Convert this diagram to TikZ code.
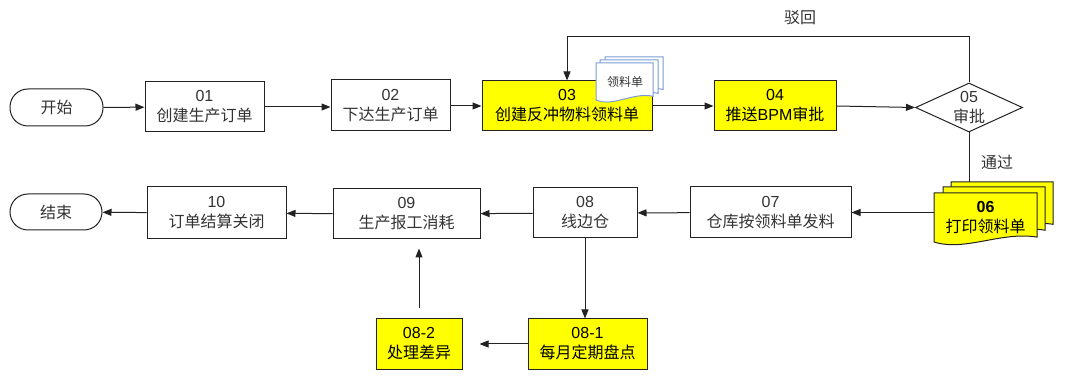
\documentclass[tikz,border=0pt]{standalone}
\usepackage{fontspec}
\setmainfont{Liberation Sans}
\newfontfamily\cjk{Noto Sans CJK SC}
\usetikzlibrary{shapes.geometric,arrows.meta,calc}
\definecolor{ink}{HTML}{333333}
\definecolor{edge}{HTML}{222222}
\definecolor{docblue}{HTML}{7A9CD3}
\definecolor{yel}{HTML}{FFFF00}
\newcommand\docpg[5]{\path[#5,shift={(#1,#2)}] (0,0) -- ({#3},0) -- ({#3},{0.9*#4}) .. controls ({0.65*#3},{0.78*#4}) and ({0.3*#3},{1.2*#4}) .. (0,{#4}) -- cycle;}
\begin{document}
\begin{tikzpicture}[x=1pt,y=-1pt,
  box/.style={rectangle,draw=edge,line width=1pt,fill=white,inner sep=0pt,align=center,text=ink,font=\fontsize{16}{20}\selectfont},
  ybox/.style={box,fill=yel,text=black},
  term/.style={box,rounded corners=18pt},
  arr/.style={draw=edge,line width=1pt,-{Triangle[length=9pt,width=7pt]}},
  ln/.style={draw=edge,line width=1pt},
  lbl/.style={text=ink,font=\fontsize{16}{20}\selectfont\cjk,inner sep=0pt},
  pagey/.style={draw=edge,line width=1pt,fill=yel},
  pageb/.style={draw=docblue,line width=1pt,fill=white}]
\useasboundingbox (0,0) rectangle (1080,390);
% row 1
\node[term,minimum width=93pt,minimum height=37pt] (start) at (56.5,107.5) {\cjk 开始};
\node[box,minimum width=119pt,minimum height=50pt] (n01) at (204.5,107) {01\\{\cjk 创建生产订单}};
\node[box,minimum width=119pt,minimum height=51pt] (n02) at (390.5,105.5) {02\\{\cjk 下达生产订单}};
\node[ybox,minimum width=170pt,minimum height=50pt] (n03) at (567,106) {03\\{\cjk 创建反冲物料领料单}};
\node[ybox,minimum width=122pt,minimum height=50pt] (n04) at (775,106) {04\\{\cjk 推送}BPM{\cjk 审批}};
\node[diamond,draw=edge,line width=1pt,fill=white,minimum width=107pt,minimum height=49pt,inner sep=0pt] (d05) at (969,107.5) {};
\node[lbl,align=center] (t05) at (d05) {\fontspec{Liberation Sans}05\\审批};
% doc icon
\docpg{605}{57}{58}{36}{pageb}
\docpg{600}{60}{58}{37}{pageb}
\docpg{596}{63}{57}{37}{pageb}
\node[lbl,font=\fontsize{12}{14}\selectfont\cjk] (icon) at (625,82) {领料单};
% 06 multi-document
\docpg{951}{182}{102}{47}{pagey}
\docpg{943}{187}{102}{48}{pagey}
\docpg{934}{193}{103}{49}{pagey}
\coordinate (b06) at (969,182);
\node[inner sep=0pt,align=center,minimum width=103pt,minimum height=49pt,font=\fontsize{16}{20}\selectfont] (n06) at (985.5,217.5) {\textbf{06}\\{\cjk 打印领料单}};
% row 2
\node[box,minimum width=161pt,minimum height=51pt] (n07) at (770.5,212.5) {07\\{\cjk 仓库按领料单发料}};
\node[box,minimum width=104pt,minimum height=50pt] (n08) at (585,213) {08\\{\cjk 线边仓}};
\node[box,minimum width=147pt,minimum height=50pt] (n09) at (406.5,214) {09\\{\cjk 生产报工消耗}};
\node[box,minimum width=139pt,minimum height=52pt] (n10) at (216.5,213) {10\\{\cjk 订单结算关闭}};
\node[term,minimum width=92pt,minimum height=36pt] (end) at (56,212) {\cjk 结束};
% row 3
\node[ybox,minimum width=86pt,minimum height=50pt] (n082) at (419,344) {08-2\\{\cjk 处理差异}};
\node[ybox,minimum width=119pt,minimum height=50pt] (n081) at (587.5,344) {08-1\\{\cjk 每月定期盘点}};
% labels
\node[lbl] (bohui) at (800,18) {驳回};
\node[lbl] (tongguo) at (997,162) {通过};
% connectors
\draw[arr] (start) -- (n01);
\draw[arr] (n01) -- (n02.west |- n01.east);
\draw[arr] (n02.east |- n03.west) -- (n03.west);
\draw[arr] (n03) -- (n04);
\draw[arr] (n04.east) -- (d05.west);
\draw[arr] (d05.north) -- (d05.north |- 0,37) -| (n03.north);
\draw[ln] (d05.south) -- (b06);
\draw[arr] (n07.east -| n06.west) -- (n07.east);
\draw[arr] (n07) -- (n08);
\draw[arr] (n08) -- (n09);
\draw[arr] (n09) -- (n10);
\draw[arr] (n10) -- (end);
\draw[arr] (n08.south) -- (n08.south |- n081.north);
\draw[arr] (n081.west) -- ($(n082.east)+(17,0)$);
\draw[arr] ($(n082.north)+(0,-10)$) -- ($(n082.north |- n09.south)+(0,9)$);
\end{tikzpicture}
\end{document}
